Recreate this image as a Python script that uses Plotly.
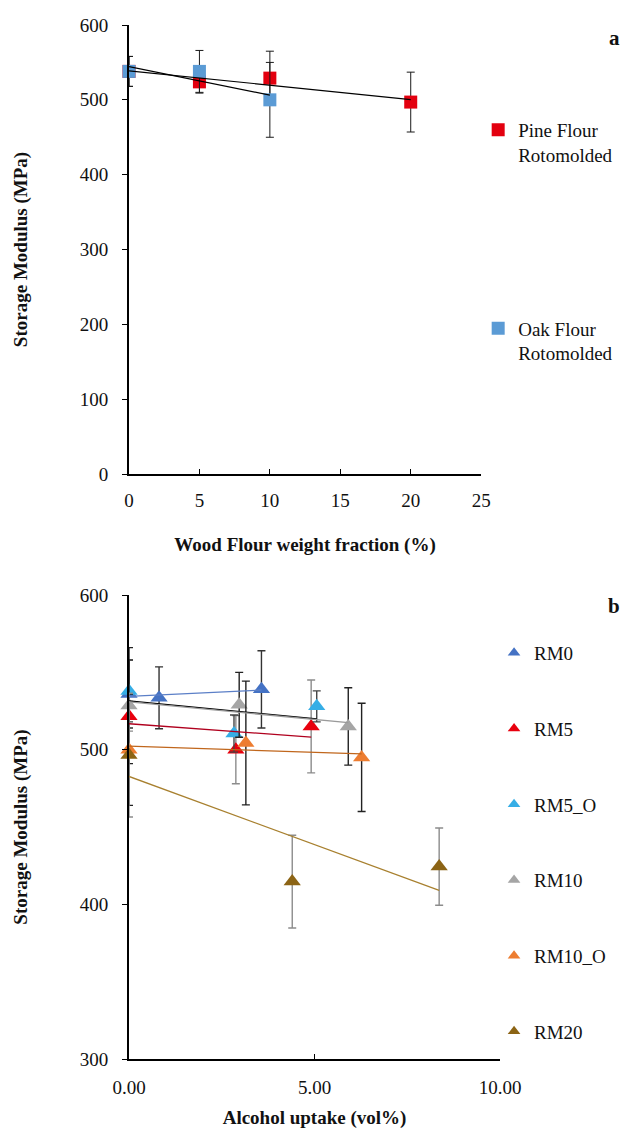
import numpy as np
import plotly.graph_objects as go

# ---- Panel a: storage modulus vs wood flour weight fraction ----
pine_wf = [0, 5, 10, 20]
pine_sm = [538, 524, 529, 497]
pine_err = [20, 15, 36, 40]

oak_wf = [0, 5, 10]
oak_sm = [538, 538, 500]
oak_err = [20, 28, 50]

# ---- Panel b: storage modulus vs alcohol uptake ----
rm0_x = [0, 0.81, 3.57]
rm0_y = [536, 533.5, 539]
rm0_err = [22, 20, 25]

rm5_x = [0, 2.88, 4.91]
rm5_y = [521.6, 500, 515]
rm5_err = [9.6, 22, 30]

rm5o_x = [0, 2.83, 5.06]
rm5o_y = [538, 510.4, 528]
rm5o_err = [20, 12, 10]

rm10_x = [0, 2.97, 5.91]
rm10_y = [528.5, 529, 515]
rm10_err = [37.5, 21, 25]

rm10o_x = [0, 3.15, 6.27]
rm10o_y = [500, 504.3, 495]
rm10o_err = [36, 40, 35]

rm20_x = [0, 4.40, 8.36]
rm20_y = [496.5, 414.7, 424.4]
rm20_err = [40, 30, 25]

FONT = '"Liberation Serif", "Times New Roman", Times, serif'
W, H = 630, 1129
ML, MR, MT, MB = 129, 127, 25, 70
PW, PH = W - ML - MR, H - MT - MB


def px_x(px):
    return (px - ML) / PW


def px_y(py):
    return (H - MB - py) / PH


def trend(x, y):
    k, b = np.polyfit(x, y, 1)
    xs = np.array([min(x), max(x)])
    return xs, k * xs + b


fig = go.Figure()

# panel a markers
panel_a = [
    ("Pine Flour<br>Rotomolded", "pine", pine_wf, pine_sm, pine_err, "#E3000F"),
    ("Oak Flour<br>Rotomolded", "oak", oak_wf, oak_sm, oak_err, "#5B9BD5"),
]
for name, grp, x, y, e, c in panel_a:
    fig.add_trace(go.Scatter(
        x=x, y=y, mode="markers", name=name, xaxis="x", yaxis="y",
        marker=dict(symbol="square", size=13, color=c),
        error_y=dict(type="data", array=e, color="#1a1a1a", thickness=1, width=4),
        legend="legend", legendgroup=grp, cliponaxis=False,
    ))
for name, grp, x, y, e, c in panel_a:
    tx, ty = trend(x, y)
    fig.add_trace(go.Scatter(
        x=tx, y=ty, mode="lines", xaxis="x", yaxis="y", showlegend=False,
        line=dict(color="#000000", width=1.2), hoverinfo="skip",
    ))

# panel b markers
panel_b = [
    ("RM0", rm0_x, rm0_y, rm0_err, "#4472C4", "#5B7FC7", "#333333"),
    ("RM5", rm5_x, rm5_y, rm5_err, "#E8000E", "#B0001E", "#8C8C8C"),
    ("RM5_O", rm5o_x, rm5o_y, rm5o_err, "#36AEE6", "#000000", "#444444"),
    ("RM10", rm10_x, rm10_y, rm10_err, "#A5A5A5", "#9A9A9A", "#222222"),
    ("RM10_O", rm10o_x, rm10o_y, rm10o_err, "#ED7D31", "#C0661C", "#222222"),
    ("RM20", rm20_x, rm20_y, rm20_err, "#8C6415", "#A8802F", "#8C8C8C"),
]
for name, x, y, e, c, tc, ec in panel_b:
    fig.add_trace(go.Scatter(
        x=x, y=y, mode="markers", name=name, xaxis="x2", yaxis="y2",
        marker=dict(symbol="triangle-up", size=15, color=c),
        error_y=dict(type="data", array=e, color=ec, thickness=1.4, width=4),
        showlegend=False, cliponaxis=False,
    ))
for name, x, y, e, c, tc, ec in panel_b:
    tx, ty = trend(x, y)
    fig.add_trace(go.Scatter(
        x=tx, y=ty, mode="lines", xaxis="x2", yaxis="y2", showlegend=False,
        line=dict(color=tc, width=1.3), hoverinfo="skip",
    ))
# legend entries for panel b (smaller symbols than the plotted markers)
for name, x, y, e, c, tc, ec in panel_b:
    fig.add_trace(go.Scatter(
        x=[None], y=[None], mode="markers", name=name, xaxis="x2", yaxis="y2",
        marker=dict(symbol="triangle-up", size=11, color=c),
        legend="legend2", legendgroup=name,
    ))

axis_common = dict(
    showgrid=False, zeroline=False, showline=True, linecolor="#000000",
    linewidth=2, tickcolor="#000000", ticklen=5, tickwidth=1.2, automargin=False,
    tickfont=dict(family=FONT, size=19, color="#111111"),
)
title_font = dict(family=FONT, size=19, color="#111111", weight="bold")

fig.update_layout(
    width=W, height=H, margin=dict(l=ML, r=MR, t=MT, b=MB),
    paper_bgcolor="white", plot_bgcolor="white",
    xaxis=dict(domain=[0, px_x(484)], range=[0, 25], dtick=5, ticks="inside",
               ticklabelstandoff=8, anchor="y",
               title=dict(text="Wood Flour weight fraction (%)", font=title_font, standoff=28),
               **axis_common),
    yaxis=dict(domain=[px_y(474), 1], range=[0, 600], dtick=100, ticks="outside",
               ticklabelstandoff=10, anchor="x",
               title=dict(text="Storage Modulus (MPa)", font=title_font, standoff=47),
               **axis_common),
    xaxis2=dict(domain=[0, 1], range=[0, 10], dtick=5, tickformat=".2f", ticks="inside",
                ticklabelstandoff=10, anchor="y2",
                title=dict(text="Alcohol uptake (vol%)", font=title_font, standoff=20),
                **axis_common),
    yaxis2=dict(domain=[0, px_y(595)], range=[300, 600], dtick=100, ticks="outside",
                ticklabelstandoff=10, anchor="x2",
                title=dict(text="Storage Modulus (MPa)", font=title_font, standoff=47),
                **axis_common),
    legend=dict(x=px_x(481), y=px_y(111), xanchor="left", yanchor="top",
                bgcolor="rgba(0,0,0,0)", tracegroupgap=146, valign="top",
                font=dict(family=FONT, size=19, color="#111111")),
    legend2=dict(x=px_x(497), y=px_y(634), xanchor="left", yanchor="top",
                 bgcolor="rgba(0,0,0,0)", tracegroupgap=48,
                 font=dict(family=FONT, size=19, color="#111111")),
    showlegend=True,
    annotations=[
        dict(text="a", x=px_x(626), y=px_y(38), xref="paper", yref="paper",
             xanchor="right", yanchor="middle", showarrow=False,
             font=dict(family=FONT, size=21, color="#111111", weight="bold")),
        dict(text="b", x=px_x(626), y=px_y(606), xref="paper", yref="paper",
             xanchor="right", yanchor="middle", showarrow=False,
             font=dict(family=FONT, size=21, color="#111111", weight="bold")),
    ],
)

fig.write_html("out.html")
